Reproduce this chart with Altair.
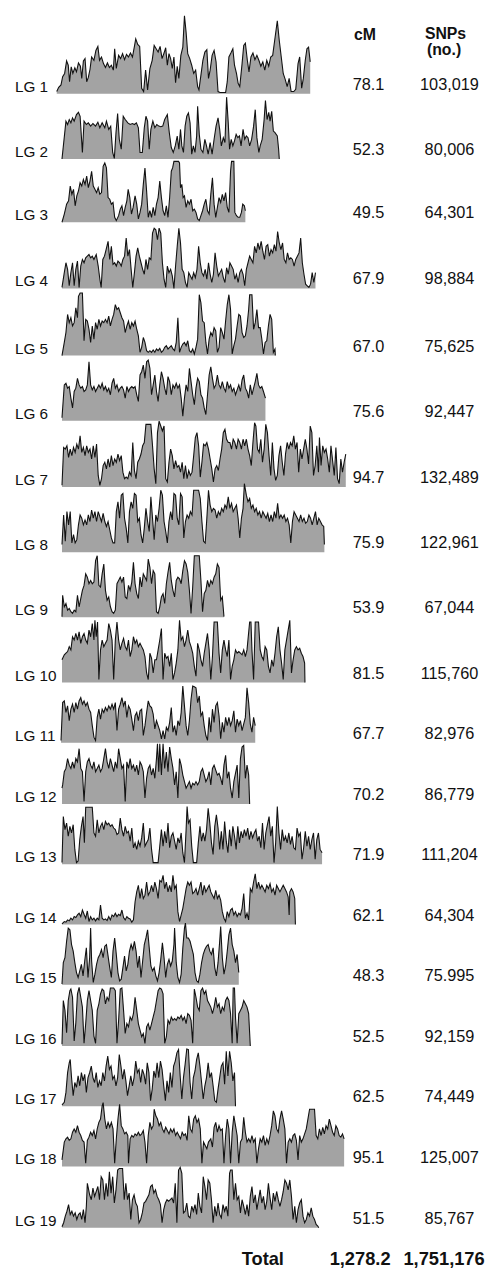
import altair as alt
import pandas as pd

# ---------------- data ----------------
LG_NAMES = ["LG %d" % i for i in range(1, 20)]
CM_VALUES = [78.1, 52.3, 49.5, 67.9, 67.0, 75.6, 94.7, 75.9, 53.9, 81.5,
             67.7, 70.2, 71.9, 62.1, 48.3, 52.5, 62.5, 95.1, 51.5]
SNP_LABELS = ["103,019", "80,006", "64,301", "98,884", "75,625", "92,447",
              "132,489", "122,961", "67,044", "115,760", "82,976", "86,779",
              "111,204", "64,304", "75.995", "92,159", "74,449", "125,007", "85,767"]
TOTAL_CM = "1,278.2"
TOTAL_SNPS = "1,751,176"

# SNP density profiles: (position along the linkage group, density) pairs
LG01 = [(2,7),(8,20),(15,27),(20,52),(26,62),(32,100),(37,87),(41,37),(46,82),(51,62),(57,79),(62,67),(68,94),(74,84),(78,47),(83,100),(88,107),(93,37),(98,50),(103,74),(108,112),(115,102),(121,132),(127,144),(132,102),(138,112),(144,92),(150,80),(156,94),(162,80),(168,87),(174,72),(178,137),(183,77),(190,117),(196,107),(202,122),(208,104),(214,120),(220,112),(226,124),(232,112),(238,144),(242,167),(248,150),(254,144),(260,17),(266,7),(272,72),(278,12),(285,77),(292,102),(298,147),(304,137),(310,127),(316,144),(322,107),(328,124),(333,140),(338,87),(343,122),(348,107),(353,77),(358,112),(363,34),(368,84),(373,47),(379,117),(385,142),(390,237),(395,187),(400,122),(406,107),(412,87),(418,62),(424,72),(430,22),(434,12),(440,57),(446,102),(452,127),(458,134),(463,47),(468,72),(474,117),(480,132),(486,97),(492,7),(498,4),(515,4),(520,37),(525,112),(531,124),(537,137),(542,87),(548,62),(553,32),(558,22),(565,92),(570,147),(575,154),(581,102),(586,67),(592,112),(598,124),(604,104),(610,117),(616,102),(622,84),(628,97),(634,72),(640,102),(646,84),(652,112),(658,117),(664,162),(672,222),(678,162),(684,112),(690,62),(696,44),(702,22),(708,47),(714,7),(722,7),(728,14),(735,92),(740,112),(746,17),(751,47),(757,102),(762,137),(767,142),(772,97)]
LG02 = [(18,0),(30,115),(35,105),(40,120),(45,110),(50,125),(55,115),(62,135),(68,142),(73,130),(80,20),(85,115),(92,105),(98,110),(105,100),(112,108),(120,100),(127,112),(133,95),(140,110),(148,95),(153,115),(160,90),(166,100),(172,20),(177,2),(182,80),(187,138),(192,60),(198,30),(204,130),(210,120),(218,110),(225,105),(232,108),(238,105),(244,110),(250,95),(255,20),(262,20),(268,95),(273,130),(278,115),(283,30),(288,90),(294,115),(300,95),(306,105),(312,100),(318,98),(324,100),(330,120),(338,135),(344,80),(350,35),(356,20),(362,40),(368,70),(373,30),(378,90),(382,40),(387,20),(392,100),(397,130),(402,140),(407,110),(412,15),(417,40),(422,20),(427,70),(430,160),(435,75),(440,30),(446,20),(452,60),(457,40),(462,15),(468,50),(474,15),(480,60),(486,100),(492,125),(497,90),(502,40),(508,65),(513,50),(518,188),(523,110),(527,30),(532,60),(537,40),(542,55),(547,75),(552,65),(557,70),(562,40),(568,90),(573,60),(578,70),(583,65),(588,40),(594,60),(600,100),(605,150),(610,65),(616,20),(620,40),(626,60),(632,120),(636,178),(641,120),(646,142),(650,115),(655,145),(660,85),(665,80),(672,70),(676,30),(678,0)]
LG03 = [(18,0),(25,25),(32,55),(38,65),(43,110),(48,85),(53,100),(58,50),(63,80),(68,95),(73,120),(78,110),(83,130),(88,115),(93,140),(98,105),(103,125),(108,155),(113,110),(118,100),(123,90),(128,105),(133,85),(138,90),(143,170),(148,180),(153,165),(158,75),(163,70),(168,55),(173,60),(178,15),(183,5),(190,20),(195,40),(200,50),(205,20),(210,45),(215,65),(219,100),(224,75),(229,25),(234,45),(240,80),(245,55),(250,10),(255,30),(260,55),(265,115),(270,165),(275,95),(280,15),(285,35),(290,15),(295,45),(300,20),(305,55),(310,75),(315,125),(320,75),(325,35),(330,20),(335,50),(340,15),(345,75),(350,155),(354,165),(358,185),(362,185),(366,185),(372,185),(375,180),(378,105),(382,115),(386,75),(390,80),(395,45),(400,65),(405,55),(410,70),(415,35),(420,40),(425,30),(430,10),(435,5),(440,20),(445,35),(450,55),(455,70),(460,35),(465,25),(470,85),(475,135),(480,55),(485,15),(490,45),(495,75),(500,60),(505,85),(510,65),(515,90),(520,45),(525,30),(530,155),(533,185),(540,185),(543,30),(548,20),(553,15),(558,15),(563,30),(567,55),(572,50),(575,35)]
LG04 = [(18,3),(25,48),(30,78),(35,58),(40,8),(45,48),(50,78),(55,8),(60,58),(65,83),(70,3),(75,68),(80,88),(85,78),(90,93),(95,98),(100,103),(105,93),(110,98),(115,88),(122,103),(128,68),(133,28),(137,3),(142,88),(147,98),(152,118),(158,143),(163,88),(168,128),(173,73),(178,78),(183,68),(188,83),(193,78),(198,68),(203,88),(208,98),(213,153),(218,98),(223,118),(228,58),(233,3),(238,48),(243,98),(248,123),(253,98),(258,78),(263,58),(268,43),(273,88),(278,58),(283,93),(288,88),(293,168),(298,183),(303,178),(308,148),(313,183),(318,168),(323,78),(328,28),(333,3),(338,68),(343,48),(348,58),(353,38),(358,0),(363,68),(368,128),(373,183),(378,138),(383,58),(388,48),(393,18),(398,3),(403,48),(408,38),(413,28),(418,48),(423,33),(428,58),(433,128),(438,78),(443,48),(448,38),(453,58),(458,28),(463,78),(468,43),(473,18),(478,43),(483,108),(488,68),(493,38),(498,48),(503,58),(508,33),(513,18),(518,63),(523,43),(528,78),(533,68),(538,58),(543,28),(548,43),(553,18),(558,48),(563,58),(568,43),(573,8),(578,58),(583,78),(588,98),(593,88),(598,78),(603,128),(608,108),(613,138),(618,118),(623,143),(628,113),(633,88),(638,128),(643,133),(648,98),(653,118),(658,108),(663,133),(668,113),(673,173),(678,138),(683,118),(688,138),(693,88),(698,78),(703,108),(708,88),(713,93),(718,88),(723,68),(728,88),(733,98),(738,108),(743,153),(748,78),(753,43),(758,13),(763,8),(768,3),(773,13),(778,48),(783,18),(788,48)]
LG05 = [(18,0),(25,40),(30,70),(35,125),(40,100),(45,115),(50,90),(55,100),(60,145),(65,115),(68,180),(73,190),(80,190),(85,45),(90,110),(95,105),(100,80),(105,40),(110,90),(115,50),(120,100),(125,80),(130,110),(135,90),(140,105),(145,100),(150,110),(155,100),(160,120),(165,90),(170,110),(175,125),(180,155),(185,140),(190,145),(195,130),(200,115),(205,105),(210,70),(215,90),(220,105),(225,80),(230,100),(235,90),(240,105),(245,80),(250,60),(255,10),(260,25),(265,55),(270,40),(275,15),(280,10),(285,15),(290,10),(295,17),(300,10),(305,20),(310,15),(315,22),(320,10),(325,15),(330,25),(335,30),(340,20),(345,25),(350,30),(355,20),(360,15),(365,40),(370,115),(375,10),(380,25),(385,35),(390,40),(395,30),(400,45),(405,15),(410,10),(415,20),(420,5),(425,25),(430,50),(435,185),(440,160),(445,105),(450,100),(455,40),(460,5),(465,50),(470,70),(475,60),(480,85),(485,75),(490,10),(495,25),(500,85),(505,70),(510,50),(515,105),(520,155),(525,185),(530,140),(535,5),(540,30),(545,50),(550,90),(555,125),(560,120),(565,70),(570,55),(575,60),(580,90),(585,140),(588,185),(595,185),(600,80),(605,100),(610,140),(615,85),(620,85),(625,50),(630,5),(635,40),(640,45),(645,90),(650,125),(655,110),(660,10),(665,20),(666,0)]
LG06 = [(18,9),(25,109),(30,114),(35,99),(40,104),(45,69),(50,39),(55,89),(60,99),(65,129),(70,109),(75,99),(80,104),(85,89),(90,94),(95,109),(100,179),(105,109),(110,94),(115,104),(120,89),(125,99),(130,109),(135,99),(140,114),(145,94),(150,104),(155,89),(160,99),(165,79),(170,114),(175,129),(180,99),(185,109),(190,89),(195,99),(200,104),(205,94),(210,69),(215,104),(220,89),(225,99),(230,104),(235,99),(240,104),(245,79),(250,59),(255,139),(260,149),(265,169),(270,129),(275,179),(280,184),(285,159),(290,79),(295,109),(300,139),(305,89),(310,59),(315,109),(320,149),(325,129),(330,99),(335,79),(340,134),(345,119),(350,79),(355,109),(360,99),(365,114),(370,99),(375,109),(380,69),(385,14),(390,69),(395,109),(400,89),(405,159),(410,119),(415,79),(420,49),(425,99),(430,129),(435,119),(440,79),(445,69),(450,39),(455,19),(460,79),(465,139),(470,164),(475,129),(480,99),(485,109),(490,139),(495,109),(500,99),(505,119),(510,99),(515,89),(520,119),(525,99),(530,109),(535,89),(540,99),(545,79),(550,94),(555,109),(560,89),(565,124),(570,139),(575,99),(580,89),(585,69),(590,109),(595,79),(600,99),(605,119),(610,144),(615,109),(620,99),(625,104),(630,89),(636,69)]
LG07 = [(18,5),(23,120),(28,115),(33,125),(38,90),(43,115),(48,95),(53,120),(58,105),(63,130),(68,115),(73,155),(78,105),(83,120),(88,95),(93,125),(98,105),(103,115),(108,85),(113,125),(118,90),(123,130),(128,35),(133,5),(138,25),(143,65),(148,75),(153,55),(158,85),(163,60),(168,95),(173,65),(178,85),(183,75),(188,100),(193,80),(198,95),(203,45),(208,25),(213,30),(218,25),(223,45),(228,35),(233,135),(238,50),(243,25),(248,75),(253,85),(258,100),(263,125),(268,135),(273,190),(280,190),(288,190),(293,125),(298,55),(303,10),(308,165),(313,200),(318,185),(323,170),(328,185),(333,25),(338,15),(343,75),(348,115),(353,95),(358,55),(363,80),(368,60),(373,65),(378,45),(383,75),(388,25),(393,65),(398,25),(403,50),(408,35),(413,45),(418,95),(423,150),(428,165),(433,125),(438,30),(443,75),(448,130),(453,125),(458,135),(463,115),(468,85),(473,55),(478,15),(483,55),(488,65),(493,50),(498,85),(503,115),(508,165),(513,175),(518,145),(523,135),(528,135),(533,115),(538,145),(543,135),(548,115),(553,145),(558,135),(563,115),(568,145),(573,125),(578,145),(583,115),(588,95),(593,65),(598,135),(603,195),(607,185),(612,115),(617,105),(622,145),(627,75),(632,115),(637,190),(642,165),(647,95),(652,35),(657,135),(662,55),(667,20),(672,35),(677,95),(682,125),(687,75),(692,35),(697,100),(702,135),(707,115),(712,135),(717,125),(722,155),(727,115),(732,135),(737,45),(742,115),(747,85),(752,115),(757,145),(762,115),(767,70),(772,185),(777,165),(782,35),(787,65),(792,125),(797,45),(800,150),(805,65),(810,125),(815,105),(820,115),(825,85),(830,45),(835,125),(840,80),(845,35),(850,120),(855,25),(860,10),(865,85),(870,45),(875,75),(880,100)]
LG08 = [(18,23),(23,113),(28,33),(33,123),(38,83),(43,123),(48,28),(53,53),(58,28),(63,38),(68,83),(73,113),(78,103),(83,83),(88,98),(93,83),(98,113),(103,93),(108,128),(113,103),(118,123),(123,93),(128,123),(133,108),(138,93),(143,118),(148,93),(153,78),(158,93),(163,68),(168,43),(173,28),(178,28),(183,123),(188,153),(193,103),(198,173),(203,178),(208,103),(213,73),(218,28),(223,123),(228,153),(233,133),(238,178),(243,173),(248,93),(253,103),(258,53),(263,28),(268,73),(273,133),(278,93),(283,63),(288,168),(293,103),(298,38),(303,113),(308,93),(313,133),(318,188),(323,173),(328,93),(333,63),(338,28),(343,93),(348,123),(353,98),(358,178),(363,173),(368,103),(373,83),(378,178),(383,168),(388,43),(393,93),(398,113),(403,103),(408,123),(413,113),(418,188),(425,188),(433,188),(438,163),(443,93),(448,33),(453,28),(458,103),(463,188),(468,143),(473,123),(478,133),(483,128),(488,103),(493,123),(498,113),(503,133),(508,123),(513,143),(518,133),(523,168),(528,133),(533,148),(538,123),(543,133),(548,143),(553,103),(558,43),(563,103),(568,133),(572,208),(578,173),(583,153),(588,163),(593,133),(598,143),(603,123),(608,133),(613,113),(618,123),(623,103),(628,123),(633,113),(638,103),(643,118),(648,93),(653,113),(658,93),(663,123),(668,103),(673,148),(678,103),(683,113),(688,103),(693,113),(698,93),(703,103),(708,83),(713,28),(718,93),(723,123),(728,113),(733,103),(738,93),(743,113),(748,93),(753,103),(758,88),(763,93),(768,113),(773,103),(778,83),(783,103),(788,123),(793,83),(798,103),(803,93),(808,83),(813,78),(815,23)]
LG09 = [(18,2),(20,67),(25,32),(30,42),(35,22),(40,27),(45,17),(50,12),(55,22),(60,17),(65,67),(70,32),(75,57),(80,82),(85,97),(90,132),(95,122),(100,102),(105,112),(110,102),(115,107),(120,172),(125,187),(130,97),(135,92),(140,132),(145,162),(150,82),(155,52),(160,62),(165,32),(170,17),(175,12),(180,22),(185,102),(190,112),(195,122),(200,107),(205,122),(210,62),(215,57),(220,97),(225,82),(230,107),(235,167),(240,102),(245,72),(250,57),(255,122),(260,92),(265,132),(270,122),(275,112),(280,177),(285,152),(290,102),(295,142),(300,132),(305,17),(310,12),(315,32),(320,62),(325,72),(330,42),(335,102),(340,137),(345,167),(350,112),(355,82),(360,62),(365,112),(370,122),(375,117),(380,102),(385,142),(390,172),(395,162),(400,137),(405,82),(410,12),(415,92),(420,187),(428,187),(435,187),(440,112),(445,17),(450,72),(455,82),(460,112),(465,92),(470,112),(475,102),(480,122),(485,132),(490,162),(495,152),(500,52),(505,62),(510,2)]
LG10 = [(18,69),(25,84),(30,89),(35,94),(40,109),(45,99),(50,139),(55,129),(60,149),(65,129),(70,154),(75,119),(80,139),(85,149),(90,129),(95,119),(100,159),(105,139),(110,179),(115,129),(118,189),(122,139),(126,184),(130,9),(135,99),(140,129),(145,109),(150,119),(155,129),(160,179),(165,159),(170,129),(175,9),(180,129),(185,184),(190,129),(195,99),(200,119),(205,134),(210,109),(215,99),(220,129),(225,79),(230,99),(235,139),(240,119),(245,129),(250,109),(255,119),(260,109),(265,99),(270,79),(275,29),(280,9),(285,89),(290,74),(295,29),(300,69),(305,69),(310,99),(315,129),(320,164),(325,9),(330,89),(335,74),(340,79),(345,49),(350,89),(355,9),(360,29),(365,59),(370,99),(375,189),(380,129),(385,139),(390,109),(395,129),(400,159),(405,124),(410,109),(415,89),(420,49),(425,19),(430,119),(435,99),(440,69),(445,49),(450,89),(455,119),(460,149),(465,99),(470,9),(475,79),(480,184),(485,184),(490,184),(495,89),(500,29),(505,99),(510,129),(515,99),(520,79),(525,129),(530,9),(535,49),(540,69),(545,99),(550,89),(555,94),(560,89),(565,84),(570,99),(575,79),(580,99),(588,184),(592,184),(595,99),(600,9),(605,184),(610,184),(615,184),(620,99),(625,79),(630,69),(635,109),(640,99),(645,49),(650,29),(655,69),(660,49),(665,89),(670,139),(675,169),(680,99),(685,59),(690,9),(695,99),(700,129),(705,159),(710,189),(715,29),(720,69),(725,99),(730,109),(735,99),(740,104),(745,89),(750,79),(755,59),(756,0)]
LG11 = [(15,7),(20,122),(25,127),(30,92),(35,112),(40,67),(45,102),(50,117),(55,92),(60,122),(65,102),(70,127),(75,137),(80,117),(85,127),(90,112),(95,122),(100,102),(105,92),(110,52),(115,17),(120,7),(125,77),(130,102),(135,72),(140,102),(145,92),(150,107),(155,97),(160,112),(165,102),(170,117),(175,102),(180,122),(185,37),(190,102),(195,117),(200,137),(205,112),(210,127),(215,77),(220,112),(225,102),(230,72),(235,37),(240,82),(245,92),(250,67),(255,97),(260,102),(265,22),(270,52),(275,92),(280,127),(285,112),(290,107),(295,87),(300,42),(305,67),(310,52),(315,37),(320,12),(325,37),(330,12),(335,47),(340,37),(345,62),(350,107),(355,32),(360,52),(365,22),(370,67),(375,52),(380,92),(385,172),(390,112),(395,52),(400,22),(405,67),(410,132),(415,172),(420,170),(425,167),(430,122),(435,142),(440,82),(445,92),(450,52),(455,22),(460,7),(465,77),(470,32),(475,102),(480,62),(485,112),(490,122),(495,82),(500,12),(505,62),(510,32),(515,77),(520,52),(525,77),(530,52),(535,67),(540,97),(545,32),(550,72),(555,52),(560,67),(565,37),(570,57),(575,77),(580,167),(585,122),(590,57),(595,32),(600,77),(605,52)]
LG12 = [(18,48),(20,58),(25,98),(30,108),(35,138),(40,118),(45,108),(50,128),(55,108),(60,138),(65,128),(70,168),(75,108),(80,98),(85,8),(90,98),(95,128),(100,138),(105,118),(110,108),(115,128),(120,98),(125,108),(130,118),(135,98),(140,108),(145,138),(150,168),(155,128),(160,108),(165,138),(170,118),(175,98),(180,128),(185,108),(190,168),(195,138),(200,108),(205,118),(210,8),(215,128),(220,108),(225,138),(230,108),(235,118),(240,98),(245,118),(250,88),(255,128),(260,118),(265,98),(270,18),(275,78),(280,108),(285,118),(290,88),(295,108),(300,78),(305,138),(308,183),(312,98),(315,183),(320,88),(325,183),(330,108),(335,158),(340,98),(345,173),(350,138),(355,108),(360,58),(365,98),(370,18),(375,138),(380,118),(385,88),(390,68),(395,48),(400,58),(405,68),(410,48),(415,63),(420,58),(425,68),(430,58),(435,68),(440,98),(445,108),(450,88),(455,68),(460,78),(465,98),(470,58),(475,108),(480,118),(485,103),(490,88),(495,93),(500,78),(505,58),(510,118),(515,148),(520,78),(525,98),(530,48),(535,18),(540,68),(545,93),(550,118),(555,18),(560,138),(565,173),(570,178),(575,78),(580,118),(585,88),(588,0)]
LG13 = [(18,5),(22,145),(27,105),(32,125),(37,85),(42,115),(47,95),(52,120),(57,45),(62,5),(67,10),(72,75),(77,115),(82,145),(86,65),(90,173),(100,173),(110,173),(115,95),(120,85),(125,135),(130,95),(135,115),(140,125),(145,105),(150,130),(155,120),(160,125),(165,115),(170,120),(175,110),(180,105),(185,90),(190,95),(195,140),(200,105),(205,85),(210,115),(215,95),(220,100),(225,70),(230,110),(235,50),(240,65),(245,45),(250,70),(255,55),(260,80),(265,125),(270,55),(275,65),(280,75),(285,110),(290,45),(295,5),(300,5),(305,5),(310,5),(315,55),(320,105),(325,55),(330,100),(335,65),(340,125),(345,50),(350,85),(355,95),(360,70),(365,45),(370,80),(375,65),(380,95),(385,35),(390,5),(395,105),(398,175),(402,125),(407,135),(412,55),(417,5),(422,5),(427,5),(432,65),(437,115),(442,70),(447,95),(452,70),(457,105),(462,170),(467,125),(472,65),(477,30),(482,115),(487,150),(492,110),(497,45),(502,100),(507,45),(512,130),(517,70),(522,35),(527,105),(532,55),(537,115),(542,85),(547,45),(552,115),(557,65),(562,100),(567,80),(572,105),(577,85),(582,110),(587,75),(592,100),(597,80),(602,95),(607,105),(612,70),(617,85),(622,50),(627,125),(632,45),(637,95),(642,120),(647,145),(652,85),(657,115),(662,5),(667,65),(672,175),(677,95),(682,45),(687,105),(692,70),(697,85),(702,65),(707,95),(712,60),(717,85),(722,50),(727,45),(732,110),(737,85),(742,95),(747,15),(752,50),(757,100),(762,55),(767,85),(772,45),(777,75),(782,95),(787,15),(792,75),(797,95),(802,45),(808,35)]
LG14 = [(18,2),(25,9),(30,7),(35,14),(40,11),(45,19),(50,14),(55,24),(60,21),(65,29),(70,34),(75,24),(80,44),(85,31),(90,19),(95,41),(100,9),(105,24),(110,14),(115,19),(120,11),(125,19),(130,14),(135,59),(140,19),(145,14),(150,17),(155,12),(160,24),(165,14),(170,29),(175,24),(180,34),(185,24),(190,31),(195,27),(200,44),(205,21),(210,14),(215,24),(220,19),(225,17),(230,7),(235,14),(240,69),(245,99),(250,119),(255,79),(260,109),(265,79),(270,89),(275,129),(280,89),(285,99),(290,119),(295,99),(300,129),(305,109),(310,79),(315,134),(320,129),(325,149),(330,109),(335,129),(340,99),(345,119),(350,99),(355,149),(360,109),(365,119),(370,39),(375,9),(380,29),(385,49),(390,79),(395,109),(400,129),(405,119),(410,129),(415,94),(420,99),(425,109),(430,89),(435,109),(440,129),(445,89),(450,119),(455,99),(460,109),(465,119),(470,99),(475,89),(480,79),(485,104),(490,79),(495,89),(500,74),(505,39),(510,19),(515,9),(520,39),(525,24),(530,44),(535,49),(540,29),(545,39),(550,24),(555,34),(560,29),(565,49),(570,94),(575,19),(580,34),(585,14),(590,109),(595,99),(600,129),(605,154),(610,109),(615,129),(620,109),(625,119),(630,109),(635,99),(640,119),(645,109),(650,124),(655,99),(660,109),(665,89),(670,119),(675,109),(680,99),(685,109),(690,119),(695,109),(700,99),(705,84),(708,29),(710,99),(715,109),(720,99),(725,79),(727,0)]
LG15 = [(18,2),(22,67),(27,82),(32,132),(37,172),(42,167),(47,122),(52,102),(57,67),(62,37),(67,22),(72,42),(77,62),(82,27),(87,72),(92,112),(97,22),(102,82),(105,172),(108,72),(113,7),(118,32),(123,62),(128,82),(133,92),(138,107),(143,82),(148,117),(153,122),(158,87),(163,52),(168,22),(173,102),(178,142),(183,92),(188,37),(193,12),(198,17),(203,52),(208,87),(213,42),(218,62),(223,102),(228,122),(233,107),(238,132),(243,102),(248,52),(253,87),(258,22),(263,72),(268,122),(273,142),(278,167),(283,112),(288,57),(293,42),(298,52),(303,27),(308,12),(313,37),(318,77),(323,127),(328,82),(333,22),(338,62),(343,77),(348,57),(353,72),(358,122),(360,172),(365,67),(370,22),(375,7),(380,32),(385,112),(390,172),(393,187),(397,142),(402,142),(407,132),(412,112),(417,92),(422,37),(427,12),(432,7),(437,32),(442,67),(447,92),(452,107),(457,117),(462,122),(467,102),(472,92),(477,112),(482,52),(487,27),(492,67),(497,132),(500,177),(505,82),(510,32),(515,57),(520,102),(525,152),(530,172),(535,122),(540,102),(545,67),(550,92),(555,37)]
LG16 = [(18,5),(22,138),(27,108),(32,40),(37,138),(42,168),(45,173),(50,148),(55,15),(60,70),(65,158),(70,178),(75,148),(80,118),(85,8),(90,68),(95,138),(100,168),(105,138),(110,108),(115,30),(120,8),(125,108),(130,128),(135,158),(140,173),(145,168),(150,128),(155,148),(160,138),(165,176),(170,176),(175,176),(180,168),(185,8),(190,78),(195,173),(200,176),(205,108),(210,38),(215,68),(220,58),(225,88),(230,78),(235,98),(240,148),(245,108),(250,68),(255,48),(260,28),(265,38),(270,8),(275,58),(280,68),(285,48),(290,68),(295,88),(300,108),(305,138),(310,168),(315,176),(320,173),(325,158),(330,8),(335,28),(340,78),(345,68),(350,88),(355,78),(360,83),(365,78),(370,88),(375,83),(380,93),(385,78),(390,88),(395,68),(400,98),(405,93),(410,78),(415,8),(420,173),(425,148),(430,118),(435,108),(440,168),(445,176),(450,158),(455,168),(460,138),(465,128),(470,118),(475,98),(480,118),(485,148),(490,118),(495,128),(500,98),(505,118),(510,108),(515,138),(520,148),(525,138),(530,98),(535,8),(538,176),(542,176),(545,88),(550,8),(555,98),(560,108),(565,118),(570,138),(575,128),(580,118),(585,98),(590,0)]
LG17 = [(18,4),(25,12),(30,42),(35,102),(40,132),(43,142),(47,87),(52,32),(57,72),(62,57),(67,92),(72,62),(77,102),(82,77),(87,97),(92,42),(97,87),(102,102),(107,122),(112,87),(117,72),(122,102),(127,57),(132,77),(137,62),(142,102),(147,77),(152,122),(157,152),(162,112),(167,122),(172,82),(177,92),(182,62),(187,87),(192,157),(197,122),(202,82),(207,112),(212,77),(217,32),(222,62),(227,92),(232,62),(237,87),(242,137),(247,102),(252,112),(257,72),(262,112),(267,97),(272,67),(277,132),(282,102),(287,17),(292,52),(297,107),(302,87),(307,132),(312,87),(317,137),(322,112),(327,62),(332,17),(337,77),(342,42),(347,102),(352,57),(357,122),(362,137),(367,162),(372,172),(377,92),(382,22),(387,87),(392,127),(397,174),(402,172),(407,72),(412,22),(417,87),(422,107),(427,142),(432,162),(437,122),(442,72),(447,22),(452,62),(457,87),(462,132),(467,87),(472,102),(477,62),(482,17),(487,12),(492,52),(497,87),(502,122),(507,132),(512,67),(517,167),(522,92),(527,167),(532,132),(537,77),(542,102),(545,0)]
LG18 = [(18,20),(25,74),(30,84),(35,89),(40,79),(45,84),(50,104),(55,114),(60,104),(65,124),(70,104),(75,94),(80,79),(85,74),(90,10),(95,79),(100,89),(105,104),(110,94),(115,109),(120,84),(125,114),(130,134),(135,144),(140,184),(143,194),(148,144),(153,114),(158,134),(163,119),(168,134),(173,114),(178,10),(183,84),(188,144),(193,189),(198,124),(203,114),(208,99),(213,104),(218,94),(220,10),(225,84),(230,94),(235,89),(240,99),(245,94),(250,104),(255,94),(260,99),(265,109),(270,74),(275,10),(280,94),(285,134),(290,114),(295,124),(298,174),(303,154),(308,144),(313,124),(318,134),(323,114),(328,104),(333,119),(338,109),(343,99),(348,114),(353,104),(358,114),(363,94),(368,104),(373,94),(378,84),(383,104),(388,94),(393,99),(398,79),(403,154),(408,114),(413,104),(418,144),(423,154),(428,134),(433,144),(438,114),(443,10),(448,74),(453,64),(458,54),(463,74),(470,84),(475,59),(480,119),(485,134),(490,104),(495,124),(500,109),(505,114),(510,10),(515,94),(520,144),(525,114),(530,10),(535,104),(540,154),(545,124),(550,94),(555,10),(560,74),(565,84),(570,149),(575,104),(580,74),(585,84),(590,74),(595,94),(600,74),(605,84),(610,10),(615,54),(620,84),(625,74),(630,94),(635,64),(640,84),(645,70),(650,94),(655,124),(660,169),(665,154),(670,114),(675,104),(680,144),(685,169),(690,144),(695,114),(700,10),(705,74),(710,84),(715,74),(720,94),(725,99),(730,79),(735,20),(740,94),(745,74),(750,84),(755,99),(760,114),(765,144),(770,174),(775,174),(780,174),(785,174),(790,94),(795,84),(800,114),(805,94),(810,119),(815,99),(820,124),(825,114),(830,144),(835,124),(840,104),(845,94),(850,124),(855,114),(860,94),(865,89),(870,99),(875,84)]
LG19 = [(18,3),(23,15),(28,35),(33,50),(38,70),(43,40),(48,50),(53,35),(58,45),(63,25),(68,40),(73,45),(78,25),(83,55),(88,15),(92,65),(95,135),(98,120),(102,100),(107,85),(112,120),(117,95),(122,110),(127,125),(132,85),(137,155),(142,145),(147,85),(152,135),(157,95),(162,170),(167,105),(172,155),(177,75),(182,115),(187,175),(192,180),(197,180),(202,180),(207,85),(212,135),(217,85),(222,105),(227,25),(232,85),(237,100),(242,75),(247,65),(252,15),(257,25),(262,45),(267,75),(272,80),(277,90),(282,100),(287,125),(292,130),(297,105),(302,115),(307,95),(312,85),(317,70),(322,15),(327,55),(332,75),(337,85),(342,80),(347,85),(352,90),(357,75),(362,135),(367,15),(372,175),(377,183),(382,165),(387,45),(392,50),(397,75),(402,35),(407,30),(412,65),(417,50),(422,70),(427,40),(432,105),(437,65),(442,45),(447,155),(452,125),(457,85),(462,145),(467,135),(472,85),(477,15),(482,65),(487,35),(492,75),(497,40),(502,30),(507,70),(512,50),(517,65),(522,35),(527,165),(530,175),(535,175),(540,85),(545,135),(550,85),(555,95),(560,45),(565,85),(570,65),(575,40),(580,70),(585,35),(590,95),(595,125),(600,75),(605,100),(610,55),(615,85),(620,115),(625,75),(630,95),(635,55),(640,80),(645,135),(650,90),(655,55),(660,105),(665,80),(670,110),(675,85),(680,65),(685,85),(690,110),(695,145),(700,135),(705,115),(710,145),(715,95),(720,25),(725,65),(730,15),(735,55),(740,75),(745,85),(750,35),(755,15),(760,25),(765,45),(770,35),(775,60),(780,35),(785,25),(790,10),(795,5),(798,0)]

PROFILES = [LG01, LG02, LG03, LG04, LG05, LG06, LG07, LG08, LG09, LG10,
            LG11, LG12, LG13, LG14, LG15, LG16, LG17, LG18, LG19]

# ---------------- layout (pixels) ----------------
W, H = 486, 1270
ROW_BASE = [87, 153, 217, 284, 352, 418, 485, 551, 617, 683, 744, 806, 867,
            928, 989, 1051, 1112, 1173, 1235]          # page y of each baseline
U = 3                                                   # data units per pixel
XDOM = [-146, -146 + W * U]
YDOM = [0, H * U]

rows = []
for name, prof, base in zip(LG_NAMES, PROFILES, ROW_BASE):
    b = (base - 8) * U
    for pos, dens in prof:
        rows.append({"lg": name, "pos": pos, "top": b - dens, "base": b})
df = pd.DataFrame(rows)

lab = pd.DataFrame({
    "lg": LG_NAMES,
    "cm": CM_VALUES,
    "snp": SNP_LABELS,
    "ly": [(b - 8 - 2) * U for b in ROW_BASE],
    "ny": [(b - 8 - 4) * U for b in ROW_BASE],
})

xs = alt.Scale(domain=XDOM)
ys = alt.Scale(domain=YDOM, reverse=True)
FONT = "Liberation Sans"

area = alt.Chart(df).mark_area(
    color="#a3a3a3", opacity=1, interpolate="linear",
    line={"color": "#111111", "strokeWidth": 1.1},
).encode(
    x=alt.X("pos:Q", scale=xs, axis=None),
    y=alt.Y("top:Q", scale=ys, axis=None),
    y2="base:Q",
    detail="lg:N",
)

lg_text = alt.Chart(lab).mark_text(
    align="left", baseline="alphabetic", font=FONT, fontSize=15.5, color="#111"
).encode(x=alt.value(7), y=alt.Y("ly:Q", scale=ys, axis=None), text="lg:N")

cm_text = alt.Chart(lab).mark_text(
    align="center", baseline="alphabetic", font=FONT, fontSize=16.5, color="#111"
).encode(x=alt.value(365), y=alt.Y("ny:Q", scale=ys, axis=None),
         text=alt.Text("cm:Q", format=".1f"))

snp_text = alt.Chart(lab).mark_text(
    align="center", baseline="alphabetic", font=FONT, fontSize=16.5, color="#111"
).encode(x=alt.value(447), y=alt.Y("ny:Q", scale=ys, axis=None), text="snp:N")


def label(txt, px, py, size, bold=True):
    return alt.Chart(pd.DataFrame({"t": [txt]})).mark_text(
        align="center", baseline="alphabetic", font=FONT, fontSize=size,
        fontWeight="bold" if bold else "normal", color="#111"
    ).encode(x=alt.value(px), y=alt.value(py), text="t:N")


headers = [
    label("cM", 361.5, 24, 16),
    label("SNPs", 443, 23, 16),
    label("(no.)", 441.5, 40, 16),
    label("Total", 258, 1265, 18.5),
    label(TOTAL_CM, 356.5, 1265, 18.5),
    label(TOTAL_SNPS, 441.5, 1265, 18.5),
]

chart = alt.layer(area, lg_text, cm_text, snp_text, *headers).properties(
    width=W, height=H, padding=0,
    autosize=alt.AutoSizeParams(type="none"),
).configure_view(stroke=None)

chart.save("out.html", embed_options={"renderer": "svg", "actions": False})
